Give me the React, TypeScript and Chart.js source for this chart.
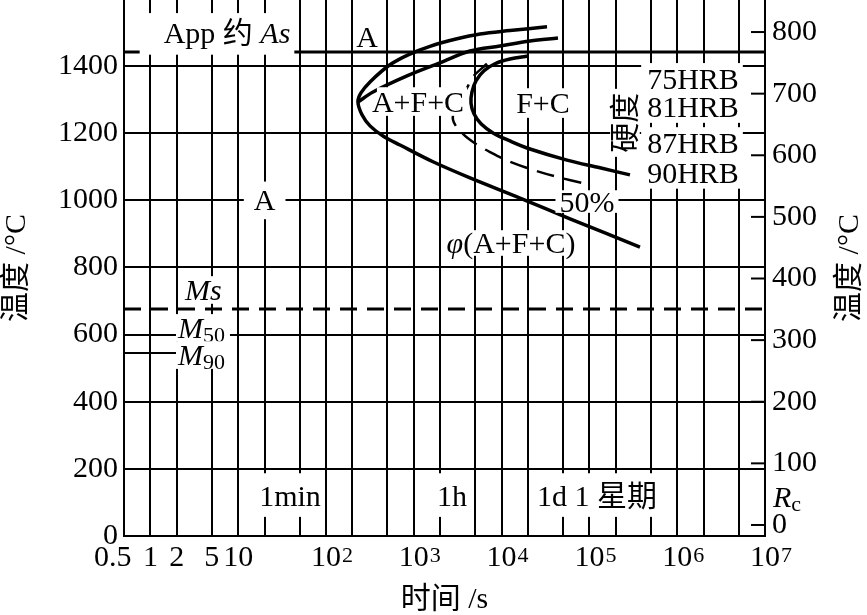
import React, { useEffect, useRef } from 'react';
import { Chart, registerables } from 'chart.js';

Chart.register(...registerables);

const SERIF = '"Liberation Serif", "Noto Sans CJK SC", serif';

// ---- axes ----
const timeGrid = [0.5, 1, 2, 5, 10, 20, 50, 100, 200, 500, 1e3, 2e3, 5e3, 1e4, 2e4, 5e4, 1e5, 2e5, 5e5, 1e6, 2e6, 5e6, 1e7];
const timeTickLabels = ['0.5   ', '1', '2', '5', '10', '', '', '10', '', '', '10', '', '', '10', '', '', '10', '', '', '10', '', '', '10'];
const timeTickExponents = ['', '', '', '', '', '', '', '2', '', '', '3', '', '', '4', '', '', '5', '', '', '6', '', '', '7'];
const tempTicks = [0, 200, 400, 600, 800, 1000, 1200, 1400];
const rightTicks = [0, 100, 200, 300, 400, 500, 600, 700, 800];

// ---- curves (time s, temperature °C) ----
const startOuterTime = [32880, 12450, 5670, 2944, 1528, 904, 535, 317, 250, 231, 257, 317, 446, 696, 1653, 4365, 16200, 60100, 376700];
const startOuterTemp = [1517, 1506, 1496, 1480, 1459, 1436, 1404, 1353, 1320, 1293, 1255, 1222, 1192, 1165, 1115, 1067, 1007, 945, 861];

const startInnerTime = [231, 343, 836, 1986, 4365, 9580, 21040, 43860];
const startInnerTemp = [1293, 1323, 1371, 1410, 1445, 1460, 1475, 1484];

const halfTime = [6810, 4720, 4035, 3103, 2793, 3631, 5105, 7375, 12450, 22770, 42740, 82270];
const halfTemp = [1407, 1368, 1335, 1287, 1240, 1198, 1168, 1144, 1115, 1091, 1070, 1052];

const finishTime = [19950, 12450, 8400, 6300, 5105, 4600, 4480, 4845, 5820, 7980, 12450, 21040, 55550, 131900, 289700];
const finishTemp = [1430, 1421, 1407, 1386, 1356, 1323, 1290, 1258, 1228, 1201, 1177, 1153, 1120, 1097, 1076];

const asLineTime = [0.5, 1e7];
const asLineTemp = [1442, 1442];
const msLineTime = [0.5, 1e7];
const msLineTemp = [676, 676];
const m90LineTime = [0.5, 2];
const m90LineTemp = [545, 545];

// ---- annotation texts ----
type Seg = { s: string; it?: boolean; sub?: boolean };
type Ann = { segs: Seg[]; t: number; T: number; align?: 'left' | 'center'; pad: number[]; rot?: boolean };

const annotations: Ann[] = [
  { segs: [{ s: 'App 约 ' }, { s: 'As', it: true }], t: 7.45, T: 1499, pad: [24, 4, 9, 11] },
  { segs: [{ s: 'A' }], t: 293, T: 1487, pad: [2, 2, 2, 1] },
  { segs: [{ s: 'A' }], t: 20, T: 1000, pad: [10, 10, 8, 8] },
  { segs: [{ s: 'A+F+C' }], t: 1116, T: 1293, pad: [-5, 3, 4, 3] },
  { segs: [{ s: 'F+C' }], t: 29600, T: 1290, pad: [3, 3, 4, 4] },
  { segs: [{ s: '50%' }], t: 93800, T: 995, pad: [4, 4, 1, 0] },
  { segs: [{ s: 'φ', it: true }, { s: '(A+F+C)' }], t: 12790, T: 873, pad: [3, 3, 2, 2] },
  { segs: [{ s: '硬度' }], t: 254000, T: 1231, pad: [4, 4, 4, 4], rot: true },
  { segs: [{ s: '75HRB' }], t: 1.513e6, T: 1362, pad: [6, 4, 5, 5] },
  { segs: [{ s: '81HRB' }], t: 1.513e6, T: 1278, pad: [6, 4, 5, 5] },
  { segs: [{ s: '87HRB' }], t: 1.513e6, T: 1171, pad: [6, 4, 5, 5] },
  { segs: [{ s: '90HRB' }], t: 1.513e6, T: 1082, pad: [6, 4, 5, 5] },
  { segs: [{ s: '1min' }], t: 38.9, T: 119, pad: [4, 4, 12, 10] },
  { segs: [{ s: '1h' }], t: 2722, T: 119, pad: [4, 4, 12, 10] },
  { segs: [{ s: '1d 1 星期' }], t: 25300, T: 119, align: 'left', pad: [4, 4, 12, 10] },
  { segs: [{ s: 'Ms', it: true }], t: 2.48, T: 733, align: 'left', pad: [2, 2, 3, 3] },
  { segs: [{ s: 'M', it: true }, { s: '50', sub: true }], t: 2.06, T: 620, align: 'left', pad: [2, 5, 3, 3] },
  { segs: [{ s: 'M', it: true }, { s: '90', sub: true }], t: 2.06, T: 539, align: 'left', pad: [2, 5, 3, 3] },
];

const FS = 30;

function segFont(seg: Seg, size: number) {
  const sz = seg.sub ? Math.round(size * 0.74) : size;
  return `${seg.it ? 'italic ' : ''}${sz}px ${SERIF}`;
}

function drawRich(ctx: CanvasRenderingContext2D, segs: Seg[], left: number, cy: number, size: number) {
  let x = left;
  segs.forEach((seg) => {
    ctx.font = segFont(seg, size);
    const w = ctx.measureText(seg.s).width;
    ctx.fillText(seg.s, x, cy + size * 0.33 + (seg.sub ? size * 0.14 : 0));
    x += w;
  });
}

function richWidth(ctx: CanvasRenderingContext2D, segs: Seg[], size: number) {
  return segs.reduce((acc, seg) => {
    ctx.font = segFont(seg, size);
    return acc + ctx.measureText(seg.s).width;
  }, 0);
}

function drawLabel(ctx: CanvasRenderingContext2D, a: Ann, px: number, py: number) {
  const size = FS;
  const total = richWidth(ctx, a.segs, size);
  const [pl, pr, pt, pb] = a.pad;
  const half = size * 0.36;
  ctx.save();
  ctx.textAlign = 'left';
  ctx.textBaseline = 'alphabetic';
  if (a.rot) {
    ctx.translate(px, py);
    ctx.rotate(-Math.PI / 2);
    px = 0;
    py = 0;
  }
  const left = a.align === 'left' ? px : px - total / 2;
  ctx.fillStyle = '#fff';
  ctx.fillRect(left - pl, py - half - pt, total + pl + pr, 2 * half + pt + pb);
  ctx.fillStyle = '#000';
  drawRich(ctx, a.segs, left, py, size);
  ctx.restore();
}

const pts = (ts: number[], Ts: number[]) => ts.map((t, i) => ({ x: t, y: Ts[i] }));

const overlayPlugin = {
  id: 'ttOverlay',
  afterDatasetsDraw(chart: any) {
    const { ctx, scales } = chart;
    const xs = scales.x;
    const ys = scales.y;
    const yr = scales.y1;
    ctx.save();
    ctx.strokeStyle = '#000';
    ctx.lineWidth = 2;
    rightTicks.forEach((v) => {
      const p = yr.getPixelForValue(v);
      ctx.beginPath();
      ctx.moveTo(yr.left - 14, p);
      ctx.lineTo(yr.left, p);
      ctx.stroke();
    });
    annotations.forEach((a) => drawLabel(ctx, a, xs.getPixelForValue(a.t), ys.getPixelForValue(a.T)));
    ctx.restore();
  },
  afterDraw(chart: any) {
    const { ctx, scales, chartArea } = chart;
    const xs = scales.x;
    const yr = scales.y1;
    ctx.save();
    ctx.fillStyle = '#000';
    ctx.font = `${FS}px ${SERIF}`;
    const w10 = ctx.measureText('10').width;
    ctx.textAlign = 'left';
    ctx.textBaseline = 'alphabetic';
    const labelCenter = xs.top + 4 + (FS * 1.2) / 2;
    timeTickExponents.forEach((e, i) => {
      if (!e) return;
      const px = xs.getPixelForValue(timeGrid[i]);
      ctx.font = `22px ${SERIF}`;
      ctx.fillText(e, px + w10 / 2 + 1, labelCenter + 4);
    });
    drawRich(ctx, [{ s: 'R', it: true }, { s: 'c', sub: true }], yr.left + 8, yr.getPixelForValue(45), FS);
    ctx.translate(yr.right - 17, (chartArea.top + chartArea.bottom) / 2);
    ctx.rotate(-Math.PI / 2);
    ctx.textAlign = 'center';
    ctx.textBaseline = 'middle';
    ctx.font = `${FS}px ${SERIF}`;
    ctx.fillText('温度 /°C', 0, 0);
    ctx.restore();
  },
};

export default function App() {
  const ref = useRef<HTMLCanvasElement>(null);

  useEffect(() => {
    const canvas = ref.current;
    if (!canvas) return;
    Chart.defaults.font.family = SERIF;
    Chart.defaults.color = '#000';

    const solid = (data: any, width = 3.5) => ({
      data,
      borderColor: '#000',
      borderWidth: width,
      pointRadius: 0,
      tension: 0.35,
      fill: false,
      xAxisID: 'x',
      yAxisID: 'y',
    });

    const chart = new Chart(canvas, {
      type: 'line',
      data: {
        datasets: [
          solid(pts(startOuterTime, startOuterTemp)),
          solid(pts(startInnerTime, startInnerTemp)),
          { ...solid(pts(halfTime, halfTemp), 2.5), borderDash: [18, 10] },
          solid(pts(finishTime, finishTemp)),
          { ...solid(pts(asLineTime, asLineTemp), 3), tension: 0 },
          { ...solid(pts(msLineTime, msLineTemp), 3), tension: 0, borderDash: [17, 10] },
          { ...solid(pts(m90LineTime, m90LineTemp), 2), tension: 0 },
        ] as any,
      },
      options: {
        animation: false,
        responsive: true,
        maintainAspectRatio: false,
        events: [],
        layout: { padding: 0 },
        plugins: { legend: { display: false }, tooltip: { enabled: false } },
        scales: {
          x: {
            type: 'logarithmic',
            position: 'bottom',
            min: 0.5,
            max: 1e7,
            afterBuildTicks: (s: any) => {
              s.ticks = timeGrid.map((v) => ({ value: v }));
            },
            afterFit: (s: any) => {
              s.height = 79;
              s.paddingLeft = 0;
              s.paddingRight = 0;
            },
            ticks: {
              autoSkip: false,
              maxRotation: 0,
              minRotation: 0,
              padding: 4,
              color: '#000',
              font: { size: FS },
              callback: (_v: any, i: number) => timeTickLabels[i],
            },
            grid: { color: '#000', lineWidth: 2, drawTicks: false },
            border: { color: '#000', width: 2 },
            title: {
              display: true,
              text: '时间 /s',
              color: '#000',
              font: { size: FS, lineHeight: 1 },
              padding: { top: 0, bottom: 0 },
            },
          },
          y: {
            type: 'linear',
            position: 'left',
            min: 0,
            max: 1597,
            afterBuildTicks: (s: any) => {
              s.ticks = tempTicks.map((v) => ({ value: v }));
            },
            afterFit: (s: any) => {
              s.width = 124;
              s.paddingTop = 0;
              s.paddingBottom = 0;
            },
            ticks: { padding: 6, color: '#000', font: { size: FS }, callback: (v: any) => String(v) },
            grid: { color: '#000', lineWidth: 2, drawTicks: false },
            border: { color: '#000', width: 2 },
            title: {
              display: true,
              text: '温度 /°C',
              color: '#000',
              font: { size: FS, lineHeight: 1 },
              padding: { top: 2, bottom: 0 },
            },
          },
          y1: {
            type: 'linear',
            position: 'right',
            min: -17.9,
            max: 852,
            afterBuildTicks: (s: any) => {
              s.ticks = rightTicks.map((v) => ({ value: v }));
            },
            afterFit: (s: any) => {
              s.width = 102;
              s.paddingTop = 0;
              s.paddingBottom = 0;
            },
            ticks: { padding: 7, color: '#000', font: { size: FS }, callback: (v: any) => String(v) },
            grid: { drawOnChartArea: false, drawTicks: false },
            border: { color: '#000', width: 2 },
          },
        },
      } as any,
      plugins: [overlayPlugin],
    });

    return () => chart.destroy();
  }, []);

  return (
    <div style={{ position: 'fixed', left: 0, top: 0, width: 867, height: 615, background: '#fff' }}>
      <canvas ref={ref} />
    </div>
  );
}
